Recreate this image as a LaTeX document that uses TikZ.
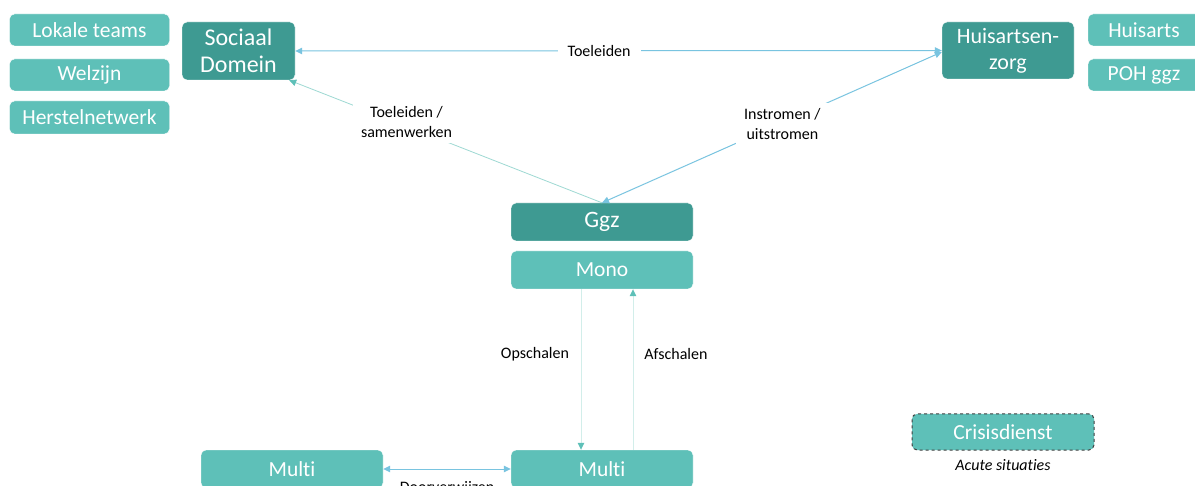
\documentclass[tikz,border=0pt]{standalone}
\usepackage{fontspec}
\setmainfont[Ligatures=NoCommon]{Carlito}
\usetikzlibrary{arrows.meta}
\definecolor{darkteal}{HTML}{3E9A92}
\definecolor{lightteal}{HTML}{5EC0B8}
\definecolor{linkblue}{HTML}{79C4E0}
\definecolor{paleteal}{HTML}{D2EEEA}
\definecolor{midteal}{HTML}{9ED9D3}
\definecolor{dashgray}{HTML}{404040}
\tikzset{
  box/.style={rounded corners=5pt, fill=lightteal, draw=white, line width=0.4pt, text=white,
    font=\fontsize{21.5}{25}\selectfont, align=center, inner sep=0pt},
  darkbox/.style={box, fill=darkteal},
  lbl/.style={fill=white, text=black, font=\fontsize{16}{20}\selectfont, align=center, inner xsep=8pt, inner ysep=5pt},
  bluelink/.style={draw=linkblue, line width=1pt},
  tealink/.style={draw=midteal, line width=0.8pt},
  palelink/.style={draw=paleteal, line width=1pt},
}
\begin{document}
\begin{tikzpicture}[x=1pt,y=-1pt]
\clip (0,0) rectangle (1195,486);
\fill[white] (0,0) rectangle (1195,486);
% left group
\node[box, minimum width=160pt, minimum height=32pt] (lt) at (89.5,30) {Lokale teams};
\node[box, minimum width=160pt, minimum height=32pt] (wz) at (89.5,75) {Welzijn};
\node[box, minimum width=160pt, minimum height=33pt] (hn) at (89.5,117.5) {Herstelnetwerk};
% main top nodes
\node[darkbox, minimum width=113pt, minimum height=58pt, font=\fontsize{24}{27}\selectfont] (sd) at (238.5,51) {Sociaal\\Domein};
\node[darkbox, minimum width=132pt, minimum height=57pt, font=\fontsize{22}{26}\selectfont] (hz) at (1008,50.5) {Huisartsen-\\zorg};
% right group
\node[box, minimum width=112pt, minimum height=32pt] (ha) at (1144,30) {Huisarts};
\node[box, minimum width=112pt, minimum height=32pt] (poh) at (1144,75) {POH ggz};
% center column
\node[darkbox, minimum width=182pt, minimum height=38pt, font=\fontsize{23.5}{27}\selectfont] (ggz) at (602,222) {Ggz};
\node[box, minimum width=182pt, minimum height=38pt] (mono) at (602,270) {Mono};
\node[box, minimum width=182pt, minimum height=38pt] (multi) at (602,469) {Multi};
\node[box, minimum width=182pt, minimum height=38pt] (multiL) at (292,469) {Multi};
% crisis
\node[box, minimum width=182pt, minimum height=36pt, draw=dashgray, dashed, line width=1pt] (crisis) at (1003,432) {Crisisdienst};
\node[text=black, font=\fontsize{16}{19}\selectfont\itshape, inner sep=0pt] (acute) at (1003,465) {Acute situaties};
% connectors
\draw[bluelink, {Triangle[length=7pt,width=6.5pt,color=linkblue]}-{Triangle[length=7pt,width=6.5pt,color=linkblue]}]
  (sd.east) -- node[lbl, pos=0.47, inner xsep=10pt] {Toeleiden} (hz.west);
\draw[tealink, -{Triangle[length=7pt,width=6.5pt,color=lightteal]}]
  (ggz.north) -- node[lbl, pos=0.625, yshift=4pt] {Toeleiden /\\samenwerken} ([xshift=-6pt]sd.south east);
\draw[bluelink, {Triangle[length=7pt,width=6.5pt,color=linkblue]}-{Triangle[length=7pt,width=6.5pt,color=linkblue]}]
  (ggz.north) -- node[lbl, pos=0.525, xshift=2pt] {Instromen /\\uitstromen} ([yshift=-1.5pt]hz.west);
\draw[palelink, -{Triangle[length=7pt,width=6.5pt,color=lightteal]}]
  ([xshift=-21pt]mono.south) -- node[lbl, xshift=-46pt, yshift=15pt, fill=none] {Opschalen} ([xshift=-21pt]multi.north);
\draw[palelink, -{Triangle[length=7pt,width=6.5pt,color=lightteal]}]
  ([xshift=31pt]multi.north) -- node[lbl, xshift=43pt, yshift=15pt, fill=none] {Afschalen} ([xshift=31pt]mono.south);
\draw[bluelink, {Triangle[length=7pt,width=6.5pt,color=linkblue]}-{Triangle[length=7pt,width=6.5pt,color=linkblue]}]
  (multiL.east) -- node[lbl, fill=none, yshift=-19pt] {Doorverwijzen} (multi.west);
\end{tikzpicture}
\end{document}
